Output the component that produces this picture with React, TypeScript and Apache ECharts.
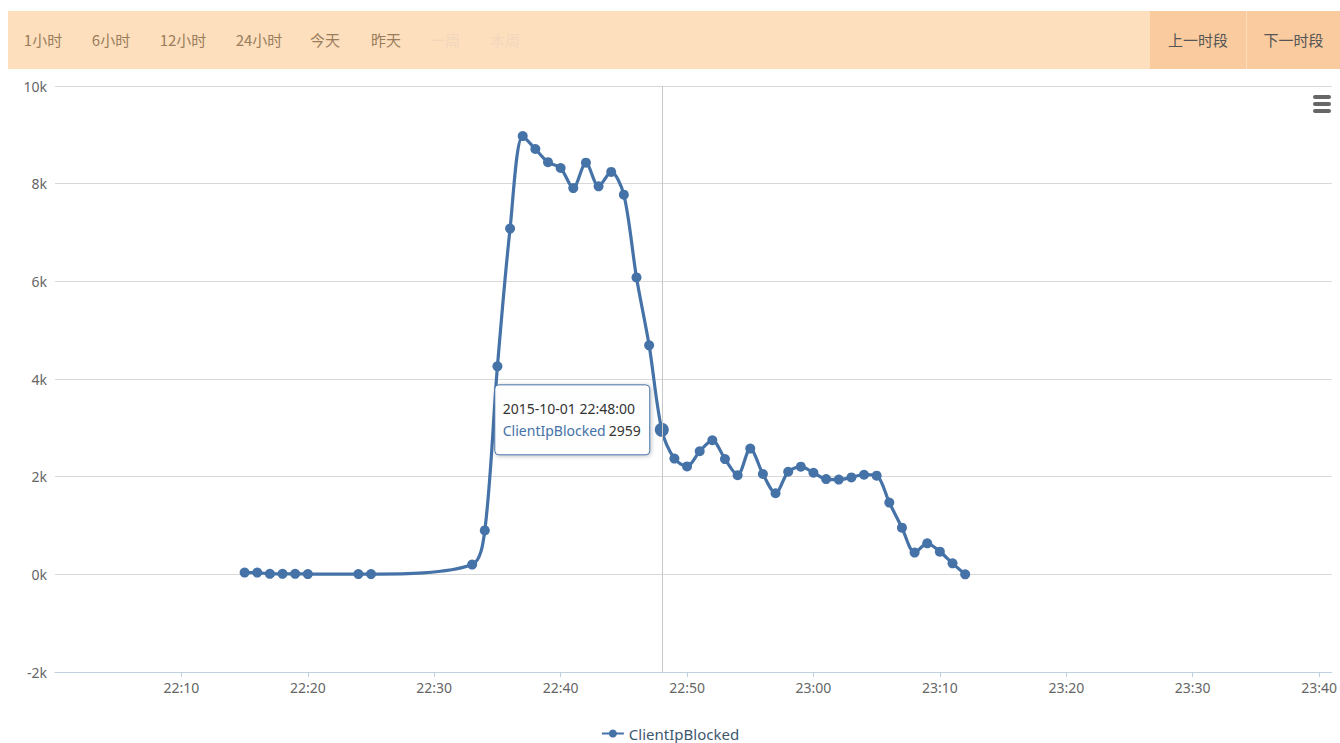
import React, { useEffect, useRef } from "react";
import * as echarts from "echarts";

// ---- data ----
const times: string[] = [
  "22:15", "22:16", "22:17", "22:18", "22:19", "22:20", "22:24", "22:25",
  "22:33", "22:34", "22:35", "22:36", "22:37", "22:38", "22:39", "22:40",
  "22:41", "22:42", "22:43", "22:44", "22:45", "22:46", "22:47", "22:48",
  "22:49", "22:50", "22:51", "22:52", "22:53", "22:54", "22:55", "22:56",
  "22:57", "22:58", "22:59", "23:00", "23:01", "23:02", "23:03", "23:04",
  "23:05", "23:06", "23:07", "23:08", "23:09", "23:10", "23:11", "23:12",
];
const values: number[] = [
  35, 35, 10, 10, 10, 5, 5, 5,
  200, 900, 4260, 7080, 8975, 8710, 8440, 8320,
  7910, 8430, 7945, 8240, 7775, 6080, 4690, 2959,
  2370, 2210, 2520, 2745, 2360, 2030, 2575, 2055,
  1660, 2100, 2205, 2080, 1950, 1940, 1985, 2040,
  2020, 1470, 955, 445, 635, 465, 225, 0,
];
const seriesName = "ClientIpBlocked";
const tooltipDate = "2015-10-01";
const tooltipTime = "22:48";
const xMinTime = "22:00";
const xMaxTime = "23:41";
const yTicks = { min: -2000, max: 10000, interval: 2000 };
const leftButtons: string[] = ["1小时", "6小时", "12小时", "24小时", "今天", "昨天", "一周", "本周"];
const disabledButtons: string[] = ["一周", "本周"];
const rightButtons: string[] = ["上一时段", "下一时段"];

const toMin = (t: string) => {
  const [h, m] = t.split(":").map(Number);
  return h * 60 + m;
};
const fmt = (v: number) => {
  const h = Math.floor(v / 60);
  const m = Math.round(v - h * 60);
  return `${String(h).padStart(2, "0")}:${String(m).padStart(2, "0")}`;
};

const COLOR = "#4572A7";
const FONT = "'Noto Sans', 'Noto Sans CJK SC', sans-serif";

const leftCenters = [43, 111, 183, 259, 325, 386, 445, 505];

export default function App() {
  const ref = useRef<HTMLDivElement>(null);
  useEffect(() => {
    if (!ref.current) return;
    const chart = echarts.init(ref.current, undefined, { renderer: "svg" });
    const hoverIdx = times.indexOf(tooltipTime);
    const data = times.map((t, i) => {
      const item: any = { value: [toMin(t), values[i]] };
      if (i === hoverIdx) item.symbolSize = 14;
      return item;
    });
    chart.setOption({
      animation: false,
      textStyle: { fontFamily: FONT },
      grid: { left: 55, right: 5, top: 86, bottom: 71, containLabel: false },
      legend: {
        data: [seriesName],
        top: 721,
        left: "center",
        itemWidth: 22,
        itemHeight: 10,
        textStyle: { color: "#3E576F", fontSize: 15, fontFamily: FONT },
      },
      xAxis: {
        type: "value",
        min: toMin(xMinTime),
        max: toMin(xMaxTime),
        interval: 10,
        axisLine: { show: true, onZero: false, lineStyle: { color: "#C0D0E0", width: 1 } },
        axisTick: { show: true, length: 5, lineStyle: { color: "#C0D0E0" } },
        splitLine: { show: false },
        axisLabel: {
          formatter: (v: number) => fmt(v),
          color: "#666",
          fontSize: 14,
          margin: 8,
          showMinLabel: false,
          showMaxLabel: false,
        },
      },
      yAxis: {
        type: "value",
        min: yTicks.min,
        max: yTicks.max,
        interval: yTicks.interval,
        axisLine: { show: false },
        axisTick: { show: false },
        splitLine: { lineStyle: { color: "#D8D8D8", width: 1 } },
        axisLabel: {
          formatter: (v: number) => `${v / 1000}k`,
          color: "#666",
          fontSize: 14,
          margin: 8,
        },
      },
      series: [
        {
          name: seriesName,
          type: "line",
          smooth: 0.3,
          data,
          symbol: "circle",
          symbolSize: 10,
          showAllSymbol: true,
          itemStyle: { color: COLOR },
          lineStyle: { color: COLOR, width: 3.2 },
          markLine: {
            silent: true,
            symbol: "none",
            label: { show: false },
            lineStyle: { color: "#C8C8C8", width: 1, type: "solid" },
            data: [{ xAxis: toMin(tooltipTime) }],
          },
          z: 3,
        },
      ],
    });

    const [px, py] = chart.convertToPixel({ seriesIndex: 0 }, [toMin(tooltipTime), values[hoverIdx]]) as number[];
    const boxW = 155;
    const boxH = 70;
    const bx = px - 12 - boxW;
    const by = py - 45;
    chart.setOption({
      graphic: [
        {
          type: "rect",
          z: 100,
          shape: { x: bx, y: by, width: boxW, height: boxH, r: 4 },
          style: {
            fill: "rgba(255,255,255,0.96)",
            stroke: COLOR,
            lineWidth: 1,
            shadowBlur: 4,
            shadowOffsetX: 1,
            shadowOffsetY: 1,
            shadowColor: "rgba(0,0,0,0.25)",
          },
        },
        {
          type: "text",
          z: 101,
          x: bx + 8,
          y: by + 24,
          style: {
            text: `${tooltipDate} ${tooltipTime}:00`,
            fill: "#333",
            fontSize: 14,
            fontFamily: FONT,
            verticalAlign: "middle",
          },
        },
        {
          type: "text",
          z: 101,
          x: bx + 8,
          y: by + 46,
          style: {
            text: `{a|${seriesName}} {b|${values[hoverIdx]}}`,
            fontFamily: FONT,
            verticalAlign: "middle",
            rich: {
              a: { fill: COLOR, fontSize: 14, fontFamily: FONT } as any,
              b: { fill: "#333", fontSize: 14, fontFamily: FONT } as any,
            },
          },
        },
        // export menu icon
        { type: "rect", shape: { x: 1313, y: 95, width: 18, height: 4, r: 2 }, style: { fill: "#666" } },
        { type: "rect", shape: { x: 1313, y: 102, width: 18, height: 4, r: 2 }, style: { fill: "#666" } },
        { type: "rect", shape: { x: 1313, y: 109, width: 18, height: 4, r: 2 }, style: { fill: "#666" } },
      ],
    });
    return () => chart.dispose();
  }, []);

  return (
    <div style={{ position: "absolute", left: 0, top: 0, width: 1340, height: 743, background: "#fff", overflow: "hidden" }}>
      <div ref={ref} style={{ position: "absolute", left: 0, top: 0, width: 1340, height: 743 }} />
      <div
        style={{
          position: "absolute",
          left: 8,
          top: 11,
          width: 1332,
          height: 58,
          background: "#FDDFBE",
          fontFamily: "'Noto Sans CJK SC', sans-serif",
          fontSize: 15,
        }}
      >
        {leftButtons.map((b, i) => (
          <div
            key={b}
            style={{
              position: "absolute",
              left: leftCenters[i] - 8 - 40,
              width: 80,
              top: 0,
              height: 58,
              lineHeight: "58px",
              textAlign: "center",
              color: disabledButtons.includes(b) ? "#F2D7BD" : "#9A7D5C",
            }}
          >
            {b}
          </div>
        ))}
        {rightButtons.map((b, i) => (
          <div
            key={b}
            style={{
              position: "absolute",
              left: 1142 + i * 97,
              width: i === 0 ? 96 : 93,
              top: 0,
              height: 58,
              lineHeight: "58px",
              textAlign: "center",
              background: "#F9CB9E",
              color: "#555",
            }}
          >
            {b}
          </div>
        ))}
      </div>
    </div>
  );
}
